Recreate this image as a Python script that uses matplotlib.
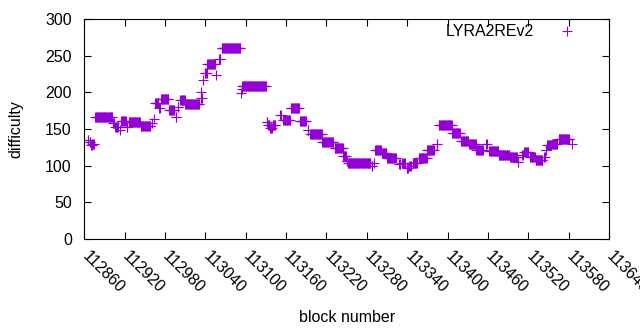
import matplotlib
matplotlib.use("Agg")
import matplotlib.pyplot as plt
import matplotlib.transforms as mtransforms
import numpy as np

plt.rcParams['font.family'] = ['Liberation Sans', 'DejaVu Sans']

# runs of blocks with the same difficulty: first block, last block, difficulty
run_start = [112865, 112868, 112870, 112872, 112876, 112903, 112906, 112913, 112915, 112923,
             112926, 112931, 112944, 112961, 112963, 112965, 112971, 112974, 112986, 112996,
             112999, 113003, 113010, 113033, 113034, 113037, 113039, 113043, 113056, 113060,
             113064, 113093, 113094, 113095, 113131, 113133, 113136, 113140, 113151, 113156,
             113167, 113180, 113192, 113196, 113214, 113232, 113245, 113250, 113252, 113287,
             113290, 113292, 113302, 113310, 113328, 113333, 113339, 113343, 113348, 113357,
             113370, 113384, 113387, 113407, 113420, 113432, 113443, 113457, 113462, 113476,
             113493, 113504, 113511, 113514, 113522, 113531, 113544, 113546, 113548, 113555,
             113565, 113585]
run_end = [112866, 112869, 112871, 112874, 112901, 112904, 112910, 112913, 112922, 112924,
           112930, 112943, 112958, 112961, 112963, 112970, 112972, 112985, 112994, 112997,
           113000, 113009, 113031, 113033, 113035, 113037, 113042, 113054, 113056, 113062,
           113092, 113093, 113094, 113130, 113132, 113135, 113139, 113144, 113152, 113166,
           113179, 113189, 113193, 113213, 113230, 113244, 113249, 113251, 113285, 113288,
           113290, 113301, 113309, 113323, 113330, 113336, 113341, 113345, 113355, 113369,
           113380, 113385, 113406, 113418, 113431, 113442, 113452, 113458, 113475, 113492,
           113503, 113505, 113512, 113520, 113530, 113541, 113545, 113547, 113554, 113562,
           113581, 113585]
run_diff = [135, 132, 128, 130, 166, 158, 153, 148, 161, 153,
            159, 160, 154, 158, 163, 186, 178, 191, 176, 166,
            180, 190, 184, 201, 192, 217, 227, 238, 224, 246,
            260, 199, 205, 209, 160, 155, 151, 155, 169, 162,
            178, 161, 149, 143, 132, 124, 113, 106, 103, 99,
            103, 122, 117, 110, 102, 104, 97, 100, 104, 110,
            121, 130, 155, 144, 134, 129, 122, 129, 120, 115,
            112, 105, 115, 119, 112, 108, 112, 121, 128, 130,
            136, 130]

blocks = np.concatenate([np.arange(s, e + 1) for s, e in zip(run_start, run_end)])
difficulty = np.concatenate([np.full(e - s + 1, d) for s, e, d in zip(run_start, run_end, run_diff)])

x_ticks = np.arange(112860, 113641, 60)
y_ticks = np.arange(0, 301, 50)

fs = 11.5

fig = plt.figure(figsize=(6.4, 3.3), dpi=100)
ax = fig.add_axes([0.1317, 0.2758, 0.8199, 0.6666])

ax.plot(blocks, difficulty, linestyle="none", marker="+", markersize=6.5,
        markeredgewidth=0.8, color="#9400d3", label="LYRA2REv2")

ax.set_xlim(112860, 113640)
ax.set_ylim(0, 300)
ax.set_xticks(x_ticks)
ax.set_yticks(y_ticks)
ax.set_xticklabels([str(t) for t in x_ticks], rotation=-45, ha="left", va="top",
                   rotation_mode="anchor")
ax.tick_params(direction="in", top=True, right=True, length=5, labelsize=fs)
ax.tick_params(axis="x", pad=7)
ax.tick_params(axis="y", pad=9)

# shift the rotated labels a little to the right, like gnuplot does
shift = mtransforms.ScaledTranslation(4 / 72, 0, fig.dpi_scale_trans)
for lab in ax.get_xticklabels():
    lab.set_transform(lab.get_transform() + shift)

ax.set_xlabel("block number", fontsize=fs, labelpad=10)
ax.set_ylabel("difficulty", fontsize=fs, labelpad=16)

ax.legend(loc="center right", bbox_to_anchor=(0.970, 0.941), frameon=False,
          markerfirst=False, fontsize=fs, handlelength=2.5, borderaxespad=0)

fig.savefig("out.png", dpi=100)
